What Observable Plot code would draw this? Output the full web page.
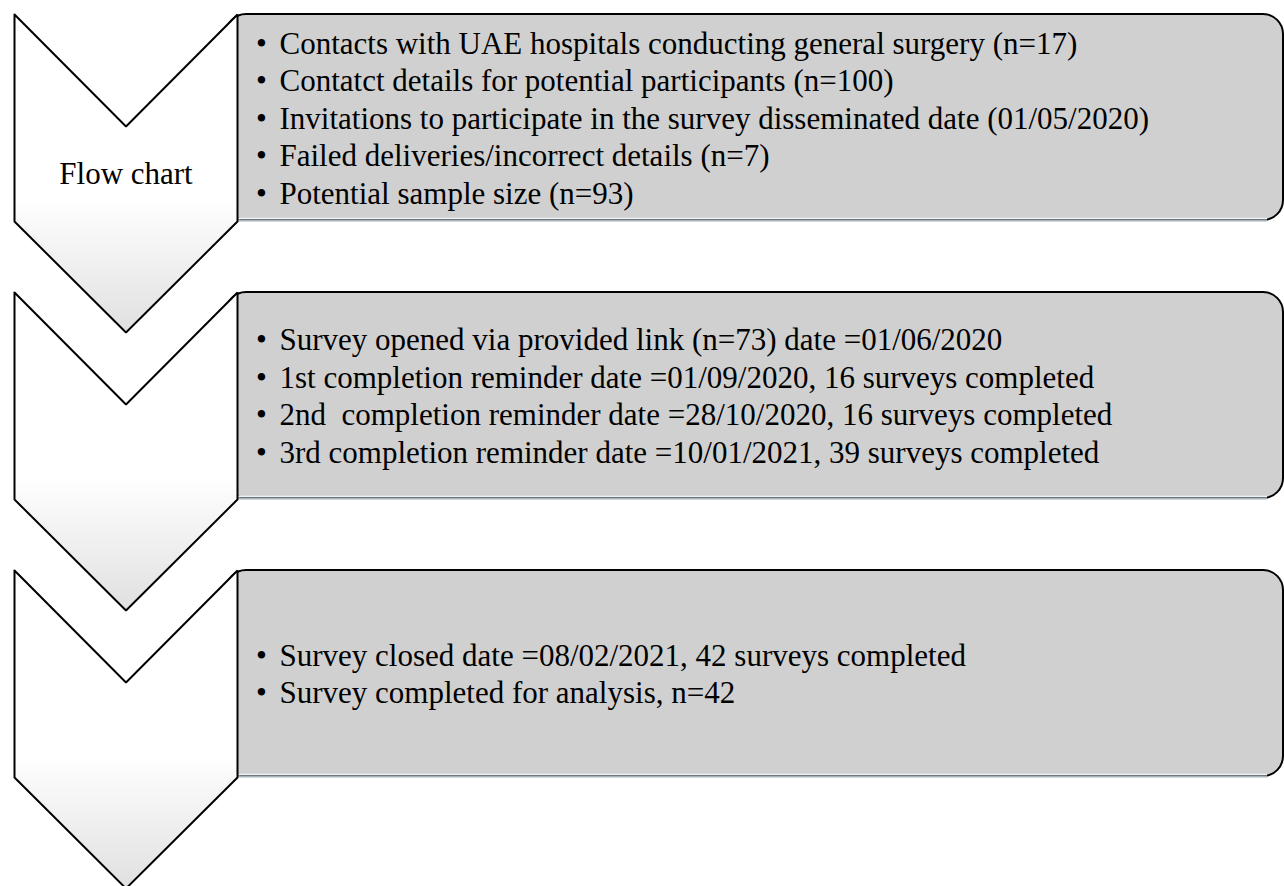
<!DOCTYPE html>
<html><head><meta charset="utf-8">
<script src="https://cdn.jsdelivr.net/npm/d3@7"></script>
<script src="https://cdn.jsdelivr.net/npm/@observablehq/plot@0.6"></script>
<style>
html,body{margin:0;padding:0;background:#fff;}
svg text{white-space:pre;}
</style></head><body><div id="chart"></div>
<script>
// ---- data ----
const stepLabels = ["Flow chart", "", ""];
const step1Items = [
  "Contacts with UAE hospitals conducting general surgery (n=17)",
  "Contatct details for potential participants (n=100)",
  "Invitations to participate in the survey disseminated date (01/05/2020)",
  "Failed deliveries/incorrect details (n=7)",
  "Potential sample size (n=93)"
];
const step2Items = [
  "Survey opened via provided link (n=73) date =01/06/2020",
  "1st completion reminder date =01/09/2020, 16 surveys completed",
  "2nd  completion reminder date =28/10/2020, 16 surveys completed",
  "3rd completion reminder date =10/01/2021, 39 surveys completed"
];
const step3Items = [
  "Survey closed date =08/02/2021, 42 surveys completed",
  "Survey completed for analysis, n=42"
];
const stepItems = [step1Items, step2Items, step3Items];

// ---- layout ----
const W = 1284, H = 886;
const L = {top0: 14, pitch: 278, chevLeft: 14, chevRight: 237, notch: 112, side: 207, point: 318,
  boxLeft: 226, boxRight: 1283, boxHeight: 206, radius: 20,
  bulletX: 261, textX: 279, textMid: 114, lineGap: 37.5, labelBase: 169, fontSize: 31};
const font = "'Liberation Serif', 'Times New Roman', serif";
const mid = (L.chevLeft + L.chevRight) / 2;

const steps = stepLabels.map((label, s) => ({s, label, top: L.top0 + s * L.pitch}));
const chevPts = steps.flatMap(({s, top}) => [
  [L.chevLeft, top], [mid, top + L.notch], [L.chevRight, top], [L.chevRight, top + L.side],
  [mid, top + L.point], [L.chevLeft, top + L.side], [L.chevLeft, top]
].map(([x, y]) => ({s, x, y})));
const boxes = steps.map(({s, top}) => ({s, x1: L.boxLeft, x2: L.boxRight, y1: top, y2: top + L.boxHeight}));
const lines = steps.flatMap(({s, top}) => stepItems[s].map((text, i, arr) => ({
  s, text, y: top + L.textMid + (i - (arr.length - 1) / 2) * L.lineGap
})));

const defs = () => {
  const ns = "http://www.w3.org/2000/svg";
  const d = document.createElementNS(ns, "defs");
  const g = document.createElementNS(ns, "linearGradient");
  g.setAttribute("id", "chevGrad");
  g.setAttribute("x1", "0"); g.setAttribute("y1", "0"); g.setAttribute("x2", "0"); g.setAttribute("y2", "1");
  [[0, "#ffffff"], [0.58, "#ffffff"], [1, "#e0e0e0"]].forEach(([o, c]) => {
    const st = document.createElementNS(ns, "stop");
    st.setAttribute("offset", o); st.setAttribute("stop-color", c);
    g.appendChild(st);
  });
  d.appendChild(g);
  return d;
};

const chart = Plot.plot({
  width: W, height: H, margin: 0,
  x: {domain: [0, W], range: [0, W], axis: null},
  y: {domain: [0, H], range: [0, H], axis: null},
  marks: [
    defs,
    Plot.rect(boxes, {x1: "x1", x2: "x2", y1: "y1", y2: "y2", fill: "#d0d0d0", stroke: "#000", strokeWidth: 2, rx: L.radius}),
    Plot.ruleY(boxes, {y: d => d.y2 - 2, x1: L.chevRight, x2: L.boxRight - L.radius + 4, stroke: "#eef1f3", strokeWidth: 1.5}),
    Plot.ruleY(boxes, {y: "y2", x1: L.chevRight, x2: L.boxRight - L.radius + 4, stroke: "#a6b3bc", strokeWidth: 2.2}),
    Plot.line(chevPts, {x: "x", y: "y", z: "s", fill: "url(#chevGrad)", stroke: "#000", strokeWidth: 2, strokeLinejoin: "miter", curve: "linear"}),
    Plot.text(steps, {x: mid, y: d => d.top + L.labelBase, text: "label", textAnchor: "middle", lineAnchor: "bottom", fontSize: L.fontSize, fontFamily: font, fill: "#000"}),
    Plot.text(lines, {x: L.bulletX, y: "y", text: () => "•", textAnchor: "middle", lineAnchor: "bottom", fontSize: L.fontSize, fontFamily: font, fill: "#000"}),
    Plot.text(lines, {x: L.textX, y: "y", text: "text", textAnchor: "start", lineAnchor: "bottom", fontSize: L.fontSize, fontFamily: font, fill: "#000"})
  ]
});
document.getElementById("chart").appendChild(chart);
</script></body></html>
